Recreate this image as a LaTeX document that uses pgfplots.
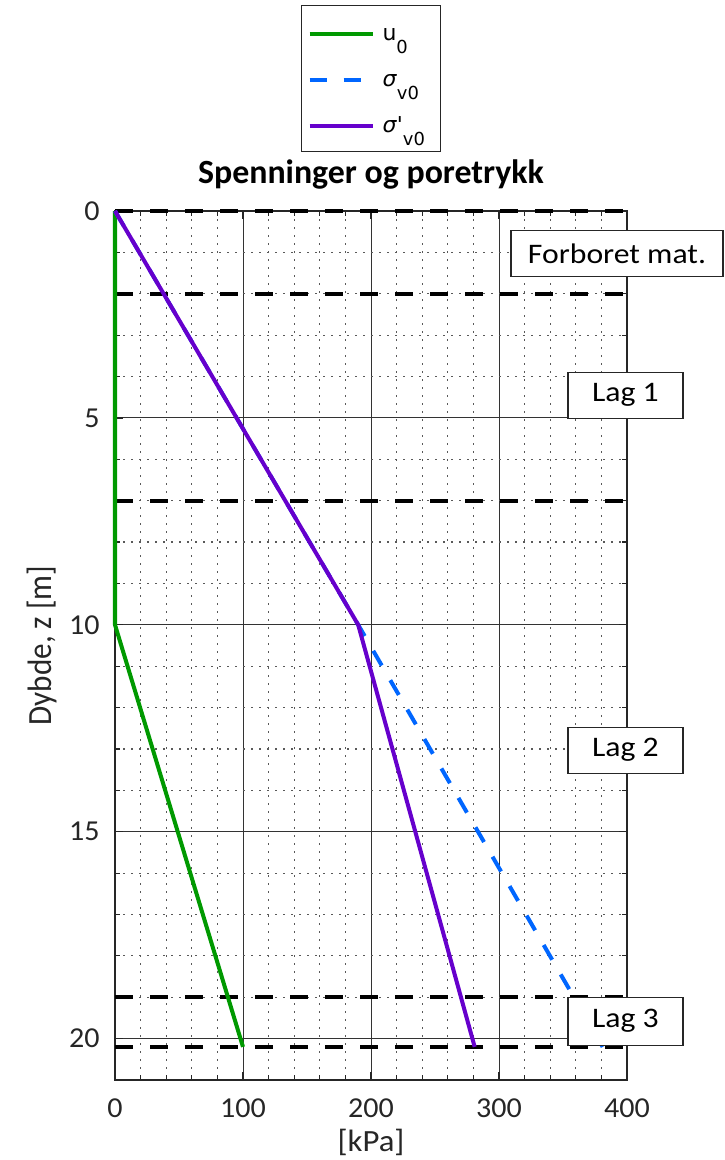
\documentclass[border=0pt]{standalone}
\usepackage{pgfplots}
\pgfplotsset{compat=1.18}
\usepackage{fontspec}
\setmainfont{Carlito}
\newfontfamily\legfont{DejaVu Sans}
\newfontfamily\tickfont[FakeStretch=1.04]{Carlito}
\newfontfamily\xlabfont[FakeStretch=1.06]{Carlito}
\newfontfamily\ylabfont[FakeStretch=0.92]{Carlito}
\newfontfamily\boxfont[FakeStretch=1.12]{Carlito}
\definecolor{cgreen}{RGB}{0,153,0}
\definecolor{cblue}{RGB}{0,102,255}
\definecolor{cpurple}{RGB}{102,0,204}
\definecolor{txt}{RGB}{38,38,38}
\begin{document}
\begin{tikzpicture}
\useasboundingbox (0,0) rectangle (362.5bp,580bp);
\begin{axis}[
  at={(57.5bp,40bp)}, anchor=south west,
  scale only axis, width=256bp, height=434.5bp,
  xmin=0, xmax=400, ymin=0, ymax=21, y dir=reverse,
  xtick={0,100,200,300,400}, ytick={0,5,10,15,20},
  minor x tick num=4, minor y tick num=4,
  grid=both,
  major grid style={line width=0.45bp, color=black!80},
  minor grid style={line width=0.6bp, color=black!65, dash pattern=on 0.8bp off 3.2bp},
  axis line style={line width=0.8bp, color=txt},
  major tick length=4bp, minor tick length=2.5bp,
  tick style={line width=0.6bp, color=txt},
  tick label style={font=\tickfont\fontsize{14.5}{16}\selectfont, color=txt},
  /pgf/number format/assume math mode=true,
  xticklabel style={anchor=base, yshift=-18.5bp},
  yticklabel style={anchor=east, inner sep=0pt, xshift=-7.5bp},
  title={\textbf{Spenninger og poretrykk}},
  title style={at={(axis description cs:0.5,1)}, anchor=base, yshift=8bp, font=\fontsize{17}{19}\selectfont},
  xlabel={[kPa]},
  xlabel style={at={(axis description cs:0.5,0)}, anchor=center, yshift=-31bp, font=\xlabfont\fontsize{15.5}{17}\selectfont, color=txt},
  ylabel={Dybde, z [m]},
  ylabel style={at={(axis description cs:-0.1426,0.5)}, anchor=center, font=\ylabfont\fontsize{17}{19}\selectfont, color=txt},
  clip=false,
  legend style={at={(0.5,1.237)}, anchor=north, draw=txt, line width=0.6bp,
    font=\legfont\fontsize{11}{13}\selectfont, inner xsep=4bp, inner ysep=2bp,
    row sep=0bp, column sep=5bp,
    nodes={text height=14.5bp, text depth=7.5bp, inner xsep=0bp, inner ysep=0bp}},
  legend cell align=left,
  legend image code/.code={\pgfpathrectangle{\pgfpoint{0bp}{0bp}}{\pgfpoint{31.5bp}{12bp}}\pgfusepath{use as bounding box}\draw[#1] (0bp,0bp) -- (31.5bp,0bp);},
]
% horizontal layer boundaries
\addplot[black, line width=2bp, dash pattern=on 9bp off 8.5bp, forget plot] coordinates {(0,0) (400,0)};
\addplot[black, line width=2bp, dash pattern=on 9bp off 8.5bp, forget plot] coordinates {(0,2) (400,2)};
\addplot[black, line width=2bp, dash pattern=on 9bp off 8.5bp, forget plot] coordinates {(0,7) (400,7)};
\addplot[black, line width=2bp, dash pattern=on 9bp off 8.5bp, forget plot] coordinates {(0,19) (400,19)};
\addplot[black, line width=2bp, dash pattern=on 9bp off 8.5bp, forget plot] coordinates {(0,20.2) (400,20.2)};
% u0
\addplot[cgreen, line width=2bp] coordinates {(0,0) (0,10) (100,20.2)};
\addlegendentry{\makebox[25bp][l]{u\raisebox{-6.5bp}{\fontsize{9}{9}\selectfont 0}}}
% sigma_v0
\addplot[cblue, line width=2bp, dash pattern=on 8.5bp off 8.5bp] coordinates {(0,0) (190,10) (381,20.2)};
\addlegendentry{\makebox[25bp][l]{\textit{σ}\raisebox{-6.5bp}{\fontsize{9}{9}\selectfont v0}}}
% sigma'_v0
\addplot[cpurple, line width=2bp] coordinates {(0,0) (190,10) (281,20.2)};
\addlegendentry{\makebox[25bp][l]{\textit{σ}'\raisebox{-6.5bp}{\fontsize{9}{9}\selectfont v0}}}
\coordinate (forb) at (axis cs:392.2,1.03);
\coordinate (lag1) at (axis cs:398.8,4.45);
\coordinate (lag2) at (axis cs:398.8,13.03);
\coordinate (lag3) at (axis cs:398.8,19.58);
\end{axis}
\tikzset{lbox/.style={draw=txt, fill=white, line width=0.6bp, inner sep=0pt, font=\boxfont\fontsize{14.2}{16}\selectfont, text=black, minimum height=23bp}}
\node[lbox, minimum width=106bp] at (forb) {Forboret mat.};
\node[lbox, minimum width=57.5bp] at (lag1) {Lag 1};
\node[lbox, minimum width=57.5bp] at (lag2) {Lag 2};
\node[lbox, minimum width=57.5bp, minimum height=24bp] at (lag3) {Lag 3};
\end{tikzpicture}
\end{document}
